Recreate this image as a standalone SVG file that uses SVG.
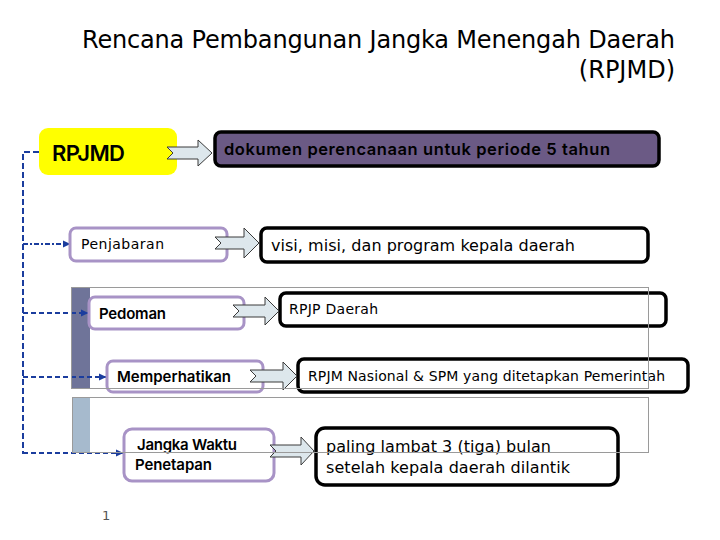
<svg xmlns="http://www.w3.org/2000/svg" width="720" height="540" viewBox="0 0 720 540">
<defs>
<style>
.t{font-family:"DejaVu Sans","Liberation Sans",sans-serif;fill:#000}
.b{font-family:Inter,"DejaVu Sans",sans-serif;font-weight:600}
.arr{fill:#dde7ec;stroke:#3a3a3a;stroke-width:1}
.pbox{fill:#fff;stroke:#a893c6;stroke-width:3}
.kbox{fill:#fff;stroke:#000;stroke-width:3.5}
.con{fill:none;stroke:#1b3d9e;stroke-width:2}
.panel{fill:none;stroke:#9a9a9a;stroke-width:1}
</style>
<marker id="ah" markerWidth="8" markerHeight="8" refX="7" refY="4" orient="auto" markerUnits="userSpaceOnUse">
<path d="M0,0.5 L7.5,4 L0,7.5 Z" fill="#1b3d9e"/>
</marker>
</defs>
<rect width="720" height="540" fill="#fff"/>

<g id="title">
<text class="t" x="675" y="48" font-size="24" text-anchor="end" textLength="593">Rencana Pembangunan Jangka Menengah Daerah</text>
<text class="t" x="675" y="78" font-size="24" text-anchor="end">(RPJMD)</text>
</g>

<g id="panels-bg">
<rect x="71" y="287" width="19" height="101" fill="#6f7499"/>
<rect x="72" y="397" width="18" height="55" fill="#a6bacd"/>
</g>

<g id="connectors">
<path class="con" d="M39,152 H23 V454" stroke-dasharray="6,3"/>
<path class="con" d="M23,244 H70" stroke-dasharray="5,2,2,2" marker-end="url(#ah)"/>
<path class="con" d="M23,313 H88" stroke-dasharray="5,3" marker-end="url(#ah)"/>
<path class="con" d="M23,377 H106" stroke-dasharray="5,3" marker-end="url(#ah)"/>
<path class="con" d="M23,453 H123" stroke-dasharray="5,3" marker-end="url(#ah)"/>
</g>

<g id="node-rpjmd">
<rect x="39" y="128" width="138" height="47" rx="9" fill="#ffff00"/>
<text class="t b" x="52" y="161" font-size="22" textLength="73">RPJMD</text>
</g>
<g id="node-dokumen">
<rect x="215" y="132" width="444" height="34" rx="6" fill="#6b5a85" stroke="#000" stroke-width="3.5"/>
<text class="t b" x="224" y="155" font-size="16.5" textLength="386">dokumen perencanaan untuk periode 5 tahun</text>
</g>

<g id="node-penjabaran">
<rect class="pbox" x="70" y="228" width="157" height="33" rx="6"/>
<text class="t" x="81" y="249" font-size="14" textLength="83">Penjabaran</text>
</g>
<g id="node-visi">
<rect class="kbox" x="261" y="228" width="387" height="34" rx="6"/>
<text class="t" x="271" y="251" font-size="16" textLength="304">visi, misi, dan program kepala daerah</text>
</g>

<g id="node-pedoman">
<rect class="pbox" x="89" y="297" width="155" height="32" rx="6"/>
<text class="t b" x="99" y="319" font-size="15" textLength="67">Pedoman</text>
</g>
<g id="node-rpjp">
<rect class="kbox" x="280" y="293" width="386" height="33" rx="6"/>
<text class="t" x="289" y="314" font-size="14" textLength="89">RPJP Daerah</text>
</g>

<g id="node-memperhatikan">
<rect class="pbox" x="107" y="361" width="156" height="31" rx="6"/>
<text class="t b" x="117" y="382" font-size="15" textLength="114">Memperhatikan</text>
</g>
<g id="node-rpjm">
<rect class="kbox" x="298" y="359" width="390" height="33" rx="6"/>
<text class="t" x="308" y="381" font-size="14" textLength="357">RPJM Nasional &amp; SPM yang ditetapkan Pemerintah</text>
</g>

<g id="node-jangka">
<rect class="pbox" x="124" y="429" width="150" height="52" rx="8"/>
<text class="t b" x="137" y="450" font-size="15" textLength="100">Jangka Waktu</text>
<text class="t b" x="135" y="470" font-size="15" textLength="77">Penetapan</text>
</g>
<g id="node-paling">
<rect class="kbox" x="316" y="428" width="302" height="57" rx="9"/>
<text class="t" x="326" y="452" font-size="16" textLength="225">paling lambat 3 (tiga) bulan</text>
<text class="t" x="326" y="473" font-size="16" textLength="244">setelah kepala daerah dilantik</text>
</g>

<g id="block-arrows">
<path class="arr" d="M167,147 H198 V140 L212,153 L198,166 V159 H167 L173,153 Z"/>
<path class="arr" d="M215,237 H244 V228 L259,243 L244,258 V249 H215 L221,243 Z"/>
<path class="arr" d="M233,305 H265 V297 L279,311 L265,325 V317 H233 L239,311 Z"/>
<path class="arr" d="M250,370 H283 V362 L297,376 L283,390 V382 H250 L256,376 Z"/>
<path class="arr" d="M270,445 H301 V437 L314,451 L301,465 V457 H270 L276,451 Z"/>
</g>

<g id="panels-outline">
<rect class="panel" x="71.5" y="287.5" width="577" height="101"/>
<rect class="panel" x="72.5" y="397.5" width="576" height="55"/>
</g>

<text class="t" x="102" y="520" font-size="13" style="fill:#555">1</text>
</svg>
